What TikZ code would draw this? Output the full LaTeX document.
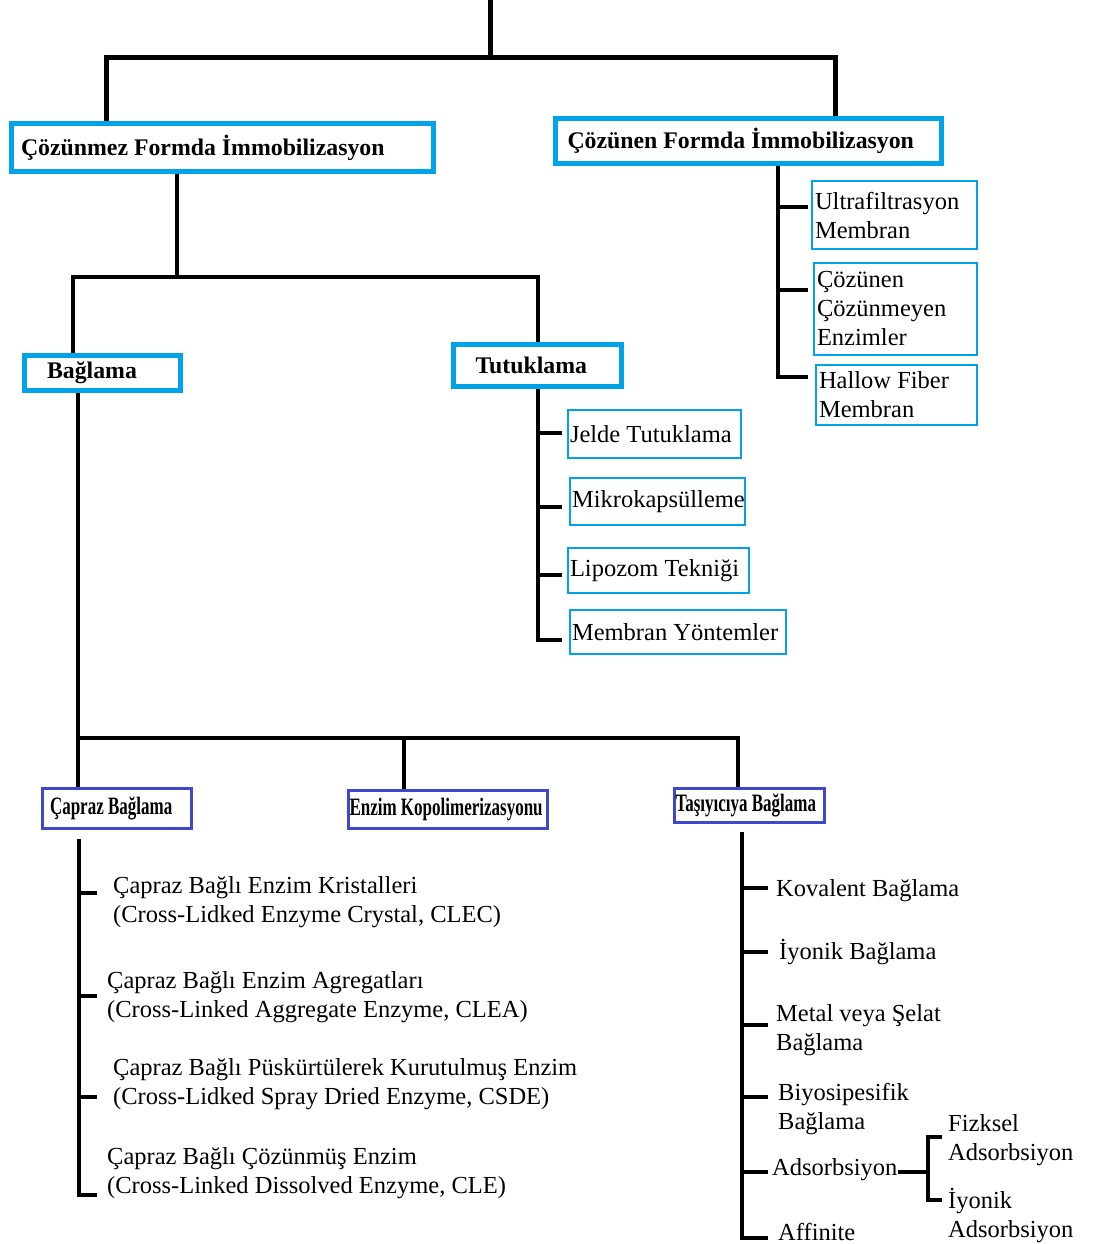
\documentclass[tikz,border=0pt]{standalone}
\usepackage{fontspec}
\setmainfont{Liberation Serif}
\newfontfamily\condbf[FakeStretch=0.68]{Liberation Serif}
\definecolor{cyanb}{RGB}{0,162,232}
\definecolor{indigob}{RGB}{63,72,204}
\begin{document}
\begin{tikzpicture}[x=1pt,y=-1pt,
  big/.style={draw=cyanb, line width=5pt, font=\fontsize{23.8}{29}\selectfont\bfseries, align=flush left, inner ysep=0pt},
  small/.style={draw=cyanb, line width=2pt, font=\fontsize{24.5}{29}\selectfont, align=flush left, inner ysep=0pt},
  mid/.style={draw=indigob, line width=3pt, font=\fontsize{25}{29}\condbf\bfseries, align=flush left, inner ysep=0pt},
  plain/.style={font=\fontsize{24.5}{29}\selectfont, align=flush left, inner sep=0pt, anchor=west},
  conn/.style={line width=4pt, line join=miter},
  topconn/.style={line width=5pt, line join=miter}]
\useasboundingbox (0,0) rectangle (1099,1244);

% boxes
\node[big, minimum width=422, minimum height=47, inner xsep=10, text width=402] (n1) at (222,147.5) {Çözünmez Formda İmmobilizasyon};
\node[big, minimum width=386, minimum height=45, inner xsep=12, text width=362] (n2) at (748.5,141) {Çözünen Formda İmmobilizasyon};
\node[big, minimum width=156, minimum height=35, inner xsep=23, text width=110] (n3) at (102,372.5) {Bağlama};
\node[big, minimum width=168, minimum height=42, inner xsep=22, text width=124] (n4) at (537.5,365.5) {Tutuklama};

\node[small, minimum width=165, minimum height=68, inner xsep=3, text width=159] (r1) at (894.5,215) {Ultrafiltrasyon\\Membran};
\node[small, minimum width=163, minimum height=92, inner xsep=3, text width=157] (r2) at (895.5,309) {Çözünen\\Çözünmeyen\\Enzimler};
\node[small, minimum width=161, minimum height=60, inner xsep=3, text width=155] (r3) at (896.5,395) {Hallow Fiber\\Membran};

\node[small, minimum width=173, minimum height=48, inner xsep=2, text width=169] (t1) at (654.5,434) {Jelde Tutuklama};
\node[small, minimum width=175, minimum height=47, inner xsep=2, text width=171] (t2) at (657.5,501.5) {Mikrokapsülleme};
\node[small, minimum width=181, minimum height=45, inner xsep=2, text width=177] (t3) at (658.5,570.5) {Lipozom Tekniği};
\node[small, minimum width=216, minimum height=44, inner xsep=2, text width=212] (t4) at (678,632) {\mbox{Membran Yöntemler}};

\node[mid, minimum width=149, minimum height=40, inner xsep=7.5, text width=134] (c1) at (117,808.5) {Çapraz Bağlama};
\node[mid, minimum width=199, minimum height=38, inner xsep=1, text width=197] (c2) at (448,809.5) {\mbox{Enzim Kopolimerizasyonu}};
\node[mid, minimum width=150, minimum height=34, inner xsep=1, text width=148] (c3) at (749.5,805.5) {\mbox{Taşıyıcıya Bağlama}};

% plain texts
\node[plain] (p1) at (113,902.5) {Çapraz Bağlı Enzim Kristalleri\\(Cross-Lidked Enzyme Crystal, CLEC)};
\node[plain] (p2) at (107,997.5) {Çapraz Bağlı Enzim Agregatları\\(Cross-Linked Aggregate Enzyme, CLEA)};
\node[plain] (p3) at (113,1084.5) {Çapraz Bağlı Püskürtülerek Kurutulmuş Enzim\\(Cross-Lidked Spray Dried Enzyme, CSDE)};
\node[plain] (p4) at (107,1173.5) {Çapraz Bağlı Çözünmüş Enzim\\(Cross-Linked Dissolved Enzyme, CLE)};

\node[plain] (q1) at (776,891) {Kovalent Bağlama};
\node[plain] (q2) at (779,952) {İyonik Bağlama};
\node[plain] (q3) at (776,1030.5) {Metal veya Şelat\\Bağlama};
\node[plain] (q4) at (778,1109.5) {Biyosipesifik\\Bağlama};
\node[plain] (q5) at (772,1170) {Adsorbsiyon};
\node[plain] (q6) at (778,1232) {Affinite};
\node[plain] (q7) at (948,1140.5) {Fizksel\\Adsorbsiyon};
\node[plain] (q8) at (948,1216) {İyonik\\Adsorbsiyon};

% coordinates
\coordinate (top) at (490,0);
\coordinate (tj) at (490,58);
\coordinate (hl) at (106,58);
\coordinate (hr) at (835,58);
\coordinate (j1) at (177,277);
\coordinate (jl) at (73,277);
\coordinate (jr) at (537.5,277);
\coordinate (rb) at (778,377);
\coordinate (rk1) at (808,207);
\coordinate (rk2) at (808,290);
\coordinate (rk3) at (808,377);
\coordinate (tk1) at (562,433);
\coordinate (tk2) at (562,507);
\coordinate (tk3) at (562,575);
\coordinate (tk4) at (562,640);
\coordinate (bj) at (78,738);
\coordinate (bm) at (404,738);
\coordinate (br) at (738,738);
\coordinate (cvb) at (79,1195);
\coordinate (ck1) at (97,893);
\coordinate (ck2) at (97,996);
\coordinate (ck3) at (97,1097);
\coordinate (ck4) at (97,1195);
\coordinate (tvb) at (742,1238);
\coordinate (qk1) at (768,888);
\coordinate (qk2) at (768,952);
\coordinate (qk3) at (768,1025);
\coordinate (qk4) at (768,1097);
\coordinate (qk5) at (768,1172);
\coordinate (qk6) at (768,1238);
\coordinate (aj) at (928,1172);
\coordinate (au) at (942,1137);
\coordinate (ad) at (942,1200);

% connectors
\draw[topconn] (top) -- (tj);
\draw[topconn] (n1.north -| hl) -- (hl) -- (hr) -- (n2.north -| hr);
\draw[conn] (n1.south -| j1) -- (j1);
\draw[conn] (n3.north -| jl) -- (jl) -- (jr) -- (n4.north);

\draw[conn] (n2.south -| rb) -- (rb) -- (rk3);
\draw[conn] (rk1 -| rb) -- (rk1);
\draw[conn] (rk2 -| rb) -- (rk2);

\draw[conn] (n4.south) -- (n4.south |- tk4) -- (tk4);
\draw[conn] (n4.south |- tk1) -- (tk1);
\draw[conn] (n4.south |- tk2) -- (tk2);
\draw[conn] (n4.south |- tk3) -- (tk3);

\draw[conn] (n3.south -| bj) -- (bj) -- (br) -- (c3.north -| br);
\draw[conn] (bj) -- (c1.north -| bj);
\draw[conn] (bm) -- (c2.north -| bm);

\draw[conn, shorten <=9pt] (c1.south -| cvb) -- (cvb) -- (ck4);
\draw[conn] (ck1 -| cvb) -- (ck1);
\draw[conn] (ck2 -| cvb) -- (ck2);
\draw[conn] (ck3 -| cvb) -- (ck3);

\draw[conn, shorten <=8pt] (c3.south -| tvb) -- (tvb) -- (qk6);
\draw[conn] (qk1 -| tvb) -- (qk1);
\draw[conn] (qk2 -| tvb) -- (qk2);
\draw[conn] (qk3 -| tvb) -- (qk3);
\draw[conn] (qk4 -| tvb) -- (qk4);
\draw[conn] (qk5 -| tvb) -- (qk5);

\draw[conn] (q5.east |- aj) -- (aj);
\draw[conn] (au) -- (au -| aj) -- (ad -| aj) -- (ad);
\end{tikzpicture}
\end{document}
